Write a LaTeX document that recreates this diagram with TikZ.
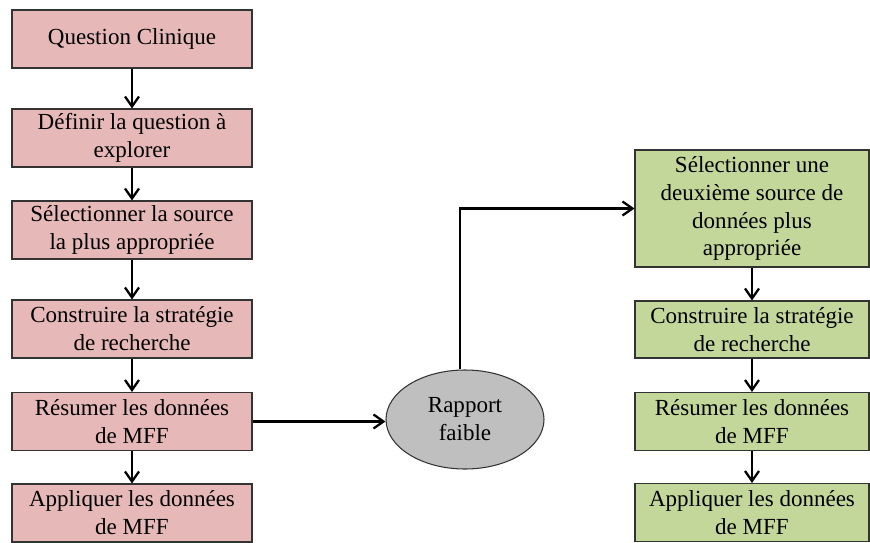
\documentclass[tikz,border=0pt]{standalone}
\usepackage{fontspec}
\setmainfont{Liberation Serif}
\usetikzlibrary{arrows.meta,shapes.geometric}
\definecolor{rosebox}{HTML}{E6B9B8}
\definecolor{olivebox}{HTML}{C4D79B}
\definecolor{greyell}{HTML}{BFBFBF}

\begin{document}
\begin{tikzpicture}[
        box/.style = {draw=black!80, line width=0.6pt, minimum height=1.16cm, align=center, inner sep=1pt, font=\fontsize{13.1}{15.9}\selectfont},
        redbox/.style = {box, fill=rosebox, minimum width=4.8cm},
        greenbox/.style = {box, fill=olivebox, minimum width=4.68cm},
        flow/.style = {-{Straight Barb[length=2mm,width=2.8mm]}, line width=1.3pt}
    ]
        \useasboundingbox (0,0) rectangle (17.4,10.84);
        %Left column
        \node[redbox] (r1) at (2.64,10.06) {Question Clinique};
        \node[redbox] (r2) at (2.64,8.08) {Définir la question à\\explorer};
        \node[redbox] (r3) at (2.64,6.24) {Sélectionner la source\\la plus appropriée};
        \node[redbox] (r4) at (2.64,4.26) {Construire la stratégie\\de recherche};
        \node[redbox] (r5) at (2.64,2.41) {Résumer les données\\de MFF};
        \node[redbox] (r6) at (2.64,0.58) {Appliquer les données\\de MFF};
        %Weak report
        \node[ellipse, draw=black!80, line width=0.6pt, fill=greyell, minimum width=3.16cm, minimum height=1.98cm, inner sep=0pt, align=center, font=\fontsize{13.1}{15.9}\selectfont] (rap) at (9.3,2.45) {Rapport\\faible};
        %Right column
        \node[greenbox, minimum height=2.34cm] (g1) at (15.04,6.67) {Sélectionner une\\deuxième source de\\données plus\\appropriée};
        \node[greenbox, minimum height=1.14cm] (g2) at (15.04,4.25) {Construire la stratégie\\de recherche};
        \node[greenbox] (g3) at (15.04,2.41) {Résumer les données\\de MFF};
        \node[greenbox] (g4) at (15.04,0.59) {Appliquer les données\\de MFF};
        \foreach \a/\b in {r1/r2,r2/r3,r3/r4,r4/r5,r5/r6,g1/g2,g2/g3,g3/g4} {
            \draw[flow] (\a) -- (\b);
        }
        \draw[flow] (r5.east) -- (r5.east -| rap.west);
        \draw[flow] ([xshift=-0.1cm]rap.north) |- (g1.west);
    \end{tikzpicture}
\end{document}
